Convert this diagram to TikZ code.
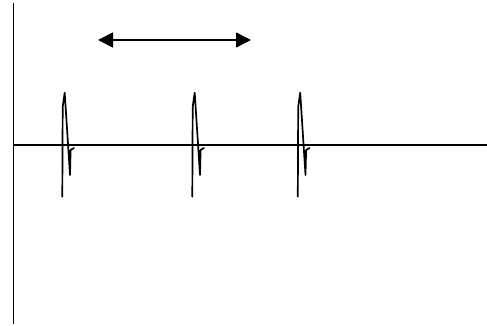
\documentclass[tikz,border=0pt]{standalone}
\usetikzlibrary{arrows.meta}
\tikzset{
  axis/.style={line width=1.8pt,draw=black},
  spike/.style={line width=1.7pt,draw=black,line join=round,line cap=round},
  span/.style={{Triangle[length=15pt,width=15pt]}-{Triangle[length=15pt,width=15pt]},line width=1.7pt}
}

\begin{document}
\begin{tikzpicture}[x=1pt,y=-1pt]
  \useasboundingbox (0,0) rectangle (487,326);
  % axes
  \coordinate (ytop) at (13.5,3);
  \coordinate (ybot) at (13.5,324);
  \coordinate (xleft) at (13.5,145);
  \coordinate (xright) at (487,145);
  \draw[axis] (ytop) -- (ybot);
  \draw[axis] (xleft) -- (xright);

  % spikes
  \foreach \s in {62.3,192.3,297.8}{
    \draw[spike] (\s,196.7) -- (\s+0.4,106.7) -- (\s+2.4,92.7)
      -- (\s+7.7,175) -- (\s+8.3,150) -- (\s+11.7,148);
  }

  % interval arrow
  \coordinate (pa) at (98,40);
  \coordinate (pb) at (251,40);
  \draw[span] (pa) -- (pb);
\end{tikzpicture}
\end{document}
